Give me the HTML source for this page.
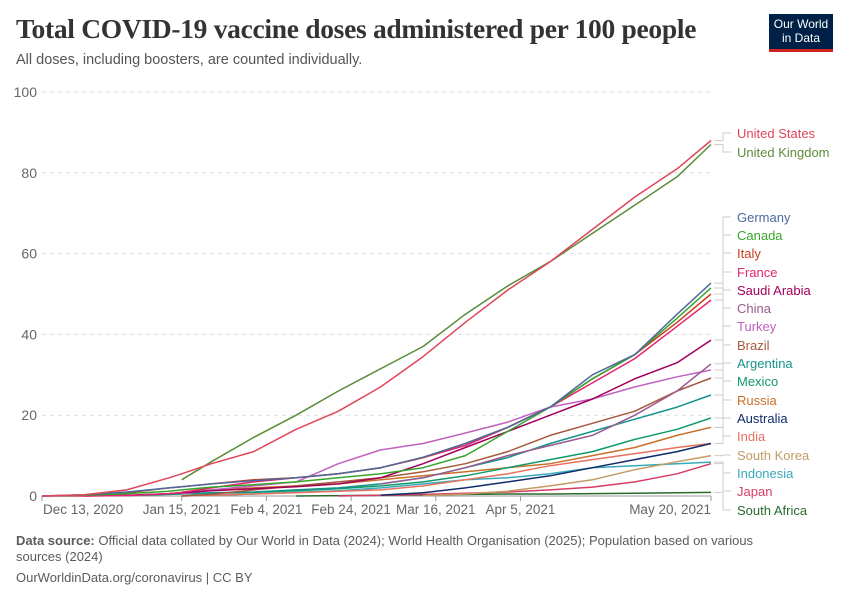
<!DOCTYPE html>
<html><head><meta charset="utf-8">
<style>
body{margin:0;background:#fff;width:850px;height:600px;overflow:hidden;font-family:"Liberation Sans",sans-serif}
#t{position:absolute;left:16px;top:13px;font-family:"Liberation Serif",serif;font-weight:bold;font-size:27.5px;color:#333;letter-spacing:-0.3px}
#s{position:absolute;left:16px;top:52px;font-size:14.5px;color:#555}
#logo{position:absolute;left:769px;top:14px;width:64px;height:38px;background:#002147;color:#fff;font-size:12px;line-height:14px;text-align:center;padding-top:3px;box-sizing:border-box;border-bottom:3px solid #ce261e}
.f{position:absolute;left:16px;font-size:13px;color:#5b5b5b;width:780px;line-height:16px}
</style></head><body>
<div id="t">Total COVID-19 vaccine doses administered per 100 people</div>
<div id="s">All doses, including boosters, are counted individually.</div>
<div id="logo">Our World<br>in Data</div>
<svg id="c" width="850" height="600" style="position:absolute;left:0;top:0"></svg>
<div class="f" style="top:533px"><b>Data source:</b> Official data collated by Our World in Data (2024); World Health Organisation (2025); Population based on various sources (2024)</div>
<div class="f" style="top:570px">OurWorldinData.org/coronavirus | CC BY</div>
<script>
const days=[0,10,20,30,33,40,50,60,70,80,90,100,110,120,130,140,150,158];
const N=null;
const countries=["United States","United Kingdom","Germany","Canada","Italy","France","Saudi Arabia","China","Turkey","Brazil","Argentina","Mexico","Russia","Australia","India","South Korea","Indonesia","Japan","South Africa"];
const colors=["#e0455a","#5b8c3a","#4c6a9c","#37a52c","#c8401c","#e5236f","#a3005b","#9a5a8e","#c060c0","#a6593b","#14938b","#109a6a","#c9702b","#112b6b","#e8715e","#c39a63","#38aabb","#d73c64","#286b2b"];
const usVals=[0,0.3,1.5,4.5,5.5,8,11,16.5,21,27,34.5,43,51,58,66,74,81,88];
const ukVals=[N,N,N,N,4,8.5,14.5,20,26,31.5,37,45,52,58,65,72,79,87];
const deVals=[0,0.3,1,2,2.3,3,3.8,4.5,5.5,7,9.6,13,17,22,30,35,45,52.7];
const caVals=[0,0.2,0.6,1.2,1.5,2.2,2.8,3.5,4.5,5.5,7,10,16,22,29,35,44,51.5];
const itVals=[0,0.2,0.8,2,2.3,3,4,4.5,5.5,7,9.5,13,17,22,29,35,43,50];
const frVals=[0,0,0.1,0.6,0.9,2,3.5,4.5,5.5,7,9.5,12.5,17,22,28,34,42,48.5];
const saVals=[N,0,0.2,0.6,0.8,1.3,1.8,2.3,3,4.5,8,12,16,20,24,29,33,38.6];
const cnVals=[N,N,N,N,N,N,N,N,N,3,4.5,7,10,12.5,15,20,26,32.7];
const trVals=[N,N,N,N,0.5,1.5,2.5,3.5,8,11.4,13,15.6,18.3,22,24,27,29.5,31.2];
const brVals=[N,N,N,N,0,0.4,1.5,2.5,3.5,4.5,6,8,11,15,18,21,26,29.2];
const arVals=[N,N,0.1,0.5,0.6,0.8,1,1.5,2,3,4.5,7,9.5,13,16,19,22,25];
const mxVals=[N,N,0.1,0.4,0.5,0.7,0.9,1.3,1.8,2.5,3.5,5,7,9,11,14,16.5,19.3];
const ruVals=[N,N,N,N,1,1.5,2,2.5,3,4,5,6,7,8,10,12,15,17];
const auVals=[N,N,N,N,N,N,N,N,N,0.2,0.8,2,3.5,5,7,9,11,13];
const inVals=[N,N,N,N,0,0.2,0.5,0.8,1.2,1.5,2.5,4,5.5,7.5,9,10.5,12,13];
const krVals=[N,N,N,N,N,N,N,N,N,N,0.1,0.5,1.2,2.5,4,6.5,8.5,10];
const idVals=[N,N,N,N,0,0.2,0.5,0.9,1.3,2,3,4,4.5,5.5,7,7.5,8,8.4];
const jpVals=[N,N,N,N,N,N,N,N,0,0.2,0.4,0.7,1,1.5,2.2,3.5,5.5,8];
const zaVals=[N,N,N,N,N,N,N,0,0.1,0.2,0.3,0.4,0.5,0.5,0.6,0.7,0.8,0.9];
const series=[usVals,ukVals,deVals,caVals,itVals,frVals,saVals,cnVals,trVals,brVals,arVals,mxVals,ruVals,auVals,inVals,krVals,idVals,jpVals,zaVals];
const yTicks=[0,20,40,60,80,100];
const xTickDays=[0,33,53,73,93,113,158];
const xTickLabels=["Dec 13, 2020","Jan 15, 2021","Feb 4, 2021","Feb 24, 2021","Mar 16, 2021","Apr 5, 2021","May 20, 2021"];
const labelY=[137,156,221,239,257,276,294,312,330,349,367,385,404,422,440,459,477,495,514];

const X0=42,X1=711,Y0=496,Y1=92,DMAX=158,VMAX=100;
const xs=d=>X0+(X1-X0)*d/DMAX;
const ys=v=>Y0-(Y0-Y1)*v/VMAX;
const svg=document.getElementById('c');
const NS='http://www.w3.org/2000/svg';
function mk(tag,at){const e=document.createElementNS(NS,tag);for(const k in at)e.setAttribute(k,at[k]);svg.appendChild(e);return e;}
yTicks.forEach(v=>{
  if(v>0){const g=mk('line',{x1:X0,x2:X1,y1:ys(v),y2:ys(v),stroke:'#ddd','stroke-dasharray':'4,4'});
  
  }
  const t=mk('text',{x:37,y:ys(v)+5,'text-anchor':'end','font-size':14,fill:'#666','font-family':'Liberation Sans'});
  t.textContent=v;
  
  
});
const ax=mk('line',{x1:X0,x2:X1,y1:Y0,y2:Y0,stroke:'#999'});


xTickDays.forEach((d,i)=>{
  mk('line',{x1:xs(d),x2:xs(d),y1:Y0,y2:Y0+5,stroke:'#999'});
  const anchor=i==0?'start':(i==xTickDays.length-1?'end':'middle');
  const t=mk('text',{x:i==0?xs(d)+1:xs(d),y:514,'text-anchor':anchor,'font-size':13.5,fill:'#666','font-family':'Liberation Sans'});
  t.textContent=xTickLabels[i];
  
  
});
for(let s=series.length-1;s>=0;s--){
  const pts=[];series[s].forEach((v,i)=>{if(v!==null)pts.push(xs(days[i]).toFixed(1)+','+ys(v).toFixed(1));});
  const p=mk('polyline',{points:pts.join(' '),fill:'none',stroke:colors[s],'stroke-width':1.5,'stroke-linejoin':'round'});
  
  
}
series.forEach((vals,s)=>{
  const ey=ys(vals[vals.length-1]);const ly=labelY[s];
  const c=mk('polyline',{points:`${X1+3},${ey} ${X1+12},${ey} ${X1+12},${ly-4} ${X1+20},${ly-4}`,fill:'none',stroke:'#ccc','stroke-width':1});
  
  
  const t=mk('text',{x:737,y:ly+1,'font-size':13,fill:colors[s],'font-family':'Liberation Sans'});
  t.textContent=countries[s];
  
  
});
</script>
</body></html>
